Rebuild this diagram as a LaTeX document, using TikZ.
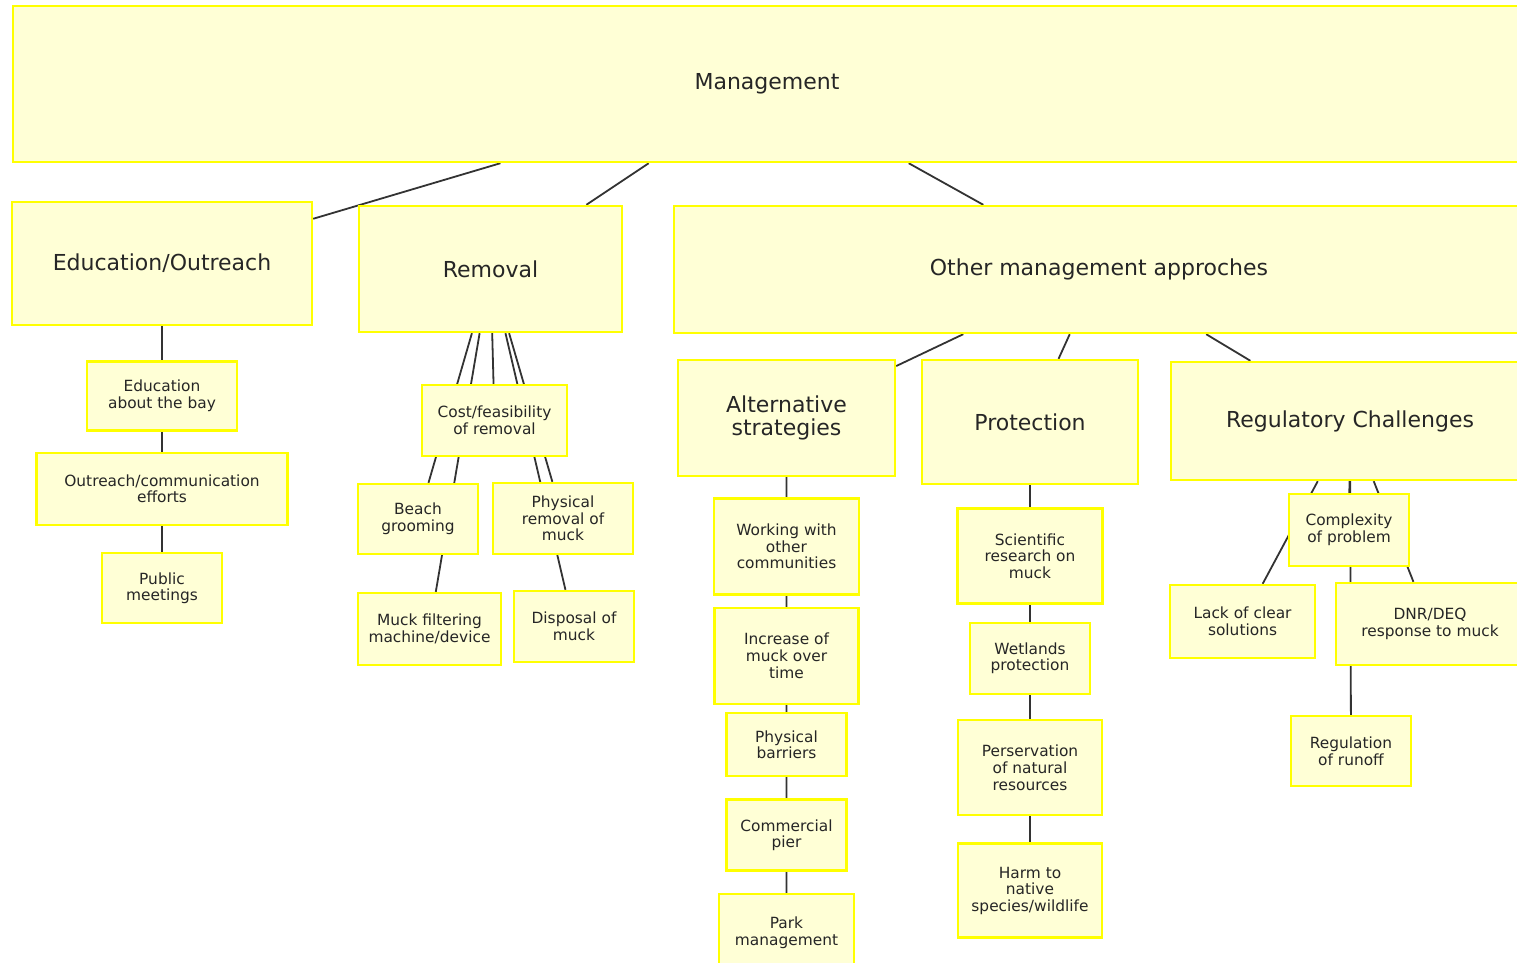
\documentclass[tikz,border=0pt]{standalone}
\usepackage{fontspec}
\setmainfont{DejaVu Sans}
\usepackage{tikz}
\usetikzlibrary{positioning, backgrounds}
\definecolor{cajafondo}{HTML}{FFFFD6}
\definecolor{cajaborde}{HTML}{FFFF00}
\definecolor{linea}{HTML}{333333}
\definecolor{texto}{HTML}{262626}

\begin{document}
\begin{tikzpicture}[x=1pt, y=-1pt, semithick,
                  caja/.style={draw=cajaborde, line width=2.4pt, fill=cajafondo,
                  text=texto, align=center, inner sep=0pt},
                  grande/.style={caja, font=\fontsize{22}{23}\selectfont},
                  chica/.style={caja, font=\fontsize{15.4}{16.6}\selectfont},
                  tam/.style 2 args={minimum width=#1pt, minimum height=#2pt},
                  rama/.style={draw=linea, line width=1.8pt}]

                  \useasboundingbox (0,0) rectangle (1517,963);

                  % Nodos de los dos primeros niveles.
                  \node[grande, tam={1508}{156}] (mgmt) at (767,84) {Management};
                  \node[grande, tam={300}{123}] (edu) at (162,263.5) {Education/Outreach};
                  \node[grande, tam={263}{126}] (rem) at (490.5,269) {Removal};
                  \node[grande, tam={850}{127}] (otro) at (1099,269.5) {Other management approches};
                  \node[grande, tam={217}{116}] (alt) at (786.5,418) {Alternative\\strategies};
                  \node[grande, tam={216}{124}] (prot) at (1030,422) {Protection};
                  \node[grande, tam={358}{118}] (reg) at (1350,421) {Regulatory Challenges};

                  % Hijos de Education/Outreach.
                  \node[chica, tam={150}{69}, below=34pt of edu] (bahia) {Education\\about the bay};
                  \node[chica, tam={251}{72}, below=20pt of bahia] (difus) {Outreach/communication\\efforts};
                  \node[chica, tam={120}{70}, below=26pt of difus] (reun) {Public\\meetings};

                  % Hijos de Removal.
                  \node[chica, tam={145}{71}] (costo) at (494.5,420.5) {Cost/feasibility\\of removal};
                  \node[chica, tam={120}{70}] (playa) at (418,519) {Beach\\grooming};
                  \node[chica, tam={140}{71}] (fisica) at (563,518.5) {Physical\\removal of\\muck};
                  \node[chica, tam={143}{72}] (filtro) at (429.5,629) {Muck filtering\\machine/device};
                  \node[chica, tam={120}{71}] (desecho) at (574,626.5) {Disposal of\\muck};

                  % Hijos de Alternative strategies.
                  \node[chica, tam={145}{96}, below=20pt of alt] (comun) {Working with\\other\\communities};
                  \node[chica, tam={144}{96}, below=11pt of comun] (aumento) {Increase of\\muck over\\time};
                  \node[chica, tam={120}{63}, below=7pt of aumento] (barrera) {Physical\\barriers};
                  \node[chica, tam={120}{71}, below=21pt of barrera] (muelle) {Commercial\\pier};
                  \node[chica, tam={135}{78}, below=21pt of muelle] (parque) {Park\\management};

                  % Hijos de Protection.
                  \node[chica, tam={145}{95}, below=22pt of prot] (ciencia) {Scientific\\research on\\muck};
                  \node[chica, tam={120}{71}, below=17pt of ciencia] (humedal) {Wetlands\\protection};
                  \node[chica, tam={144}{95}, below=24pt of humedal] (preserv) {Perservation\\of natural\\resources};
                  \node[chica, tam={144}{94}, below=26pt of preserv] (danio) {Harm to\\native\\species/wildlife};

                  % Hijos de Regulatory Challenges.
                  \node[chica, tam={120}{72}] (compl) at (1349,530) {Complexity\\of problem};
                  \node[chica, tam={145}{73}] (falta) at (1242.5,621.5) {Lack of clear\\solutions};
                  \node[chica, tam={188}{82}] (dnr) at (1430,624) {DNR/DEQ\\response to muck};
                  \node[chica, tam={120}{70}] (escorr) at (1351,751) {Regulation\\of runoff};

                  % Conexiones, detras de las cajas.
                  \begin{scope}[on background layer]
                  \draw[rama] (mgmt) -- (edu) (mgmt) -- (rem) (mgmt) -- (otro)
                  (otro) -- (alt) (otro) -- (prot) (otro) -- (reg)
                  (edu) -- (bahia) (edu) -- (difus) (edu) -- (reun)
                  (rem) -- (costo) (rem) -- (playa) (rem) -- (fisica)
                  (rem) -- (filtro) (rem) -- (desecho)
                  (alt) -- (comun) (alt) -- (aumento) (alt) -- (barrera)
                  (alt) -- (muelle) (alt) -- (parque)
                  (prot) -- (ciencia) (prot) -- (humedal) (prot) -- (preserv)
                  (prot) -- (danio)
                  (reg) -- (compl) (reg) -- (falta) (reg) -- (dnr) (reg) -- (escorr);
                  \end{scope}

                \end{tikzpicture}
\end{document}
